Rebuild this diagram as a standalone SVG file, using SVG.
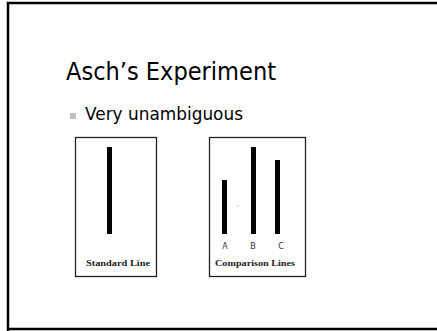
<svg xmlns="http://www.w3.org/2000/svg" width="437" height="331" viewBox="0 0 437 331">
<style>
.box{fill:#fff;stroke:#222;stroke-width:1.3}
.bar{fill:#000}
.cap{font-family:"Liberation Serif",serif;font-weight:bold;font-size:9px;fill:#222;text-anchor:middle}
.lbl{font-family:"DejaVu Sans",sans-serif;font-size:8px;fill:#333;text-anchor:middle}
</style>
<rect x="0" y="0" width="437" height="331" fill="#fff"/>
<path d="M8,331 V3 H440 M8,329 H440" fill="none" stroke="#000" stroke-width="2.5"/>
<g id="title"><text x="66" y="80" font-family="DejaVu Sans, sans-serif" font-size="25" fill="#000" textLength="210" lengthAdjust="spacingAndGlyphs">Asch’s Experiment</text></g>
<g id="bullet">
<rect x="70" y="113" width="6" height="6" fill="#c0c0c0"/>
<text x="85" y="120" font-family="DejaVu Sans, sans-serif" font-size="17" fill="#000" textLength="158" lengthAdjust="spacingAndGlyphs">Very unambiguous</text>
</g>
<g id="standard">
<rect class="box" x="75.5" y="137.5" width="81" height="139"/>
<rect class="bar" x="107" y="147" width="5" height="87"/>
<text class="cap" x="118" y="266" textLength="64" lengthAdjust="spacingAndGlyphs">Standard Line</text>
</g>
<g id="comparison">
<rect class="box" x="209.5" y="137.5" width="96" height="139"/>
<rect class="bar" x="222" y="180" width="5" height="54"/>
<rect class="bar" x="251" y="147" width="5" height="87"/>
<rect class="bar" x="275" y="160" width="5" height="74"/>
<rect x="237.5" y="205.5" width="1" height="1" fill="#999"/>
<text class="lbl" x="225" y="249">A</text>
<text class="lbl" x="253" y="249">B</text>
<text class="lbl" x="281" y="249">C</text>
<text class="cap" x="255" y="266" textLength="80" lengthAdjust="spacingAndGlyphs">Comparison Lines</text>
</g>
</svg>
